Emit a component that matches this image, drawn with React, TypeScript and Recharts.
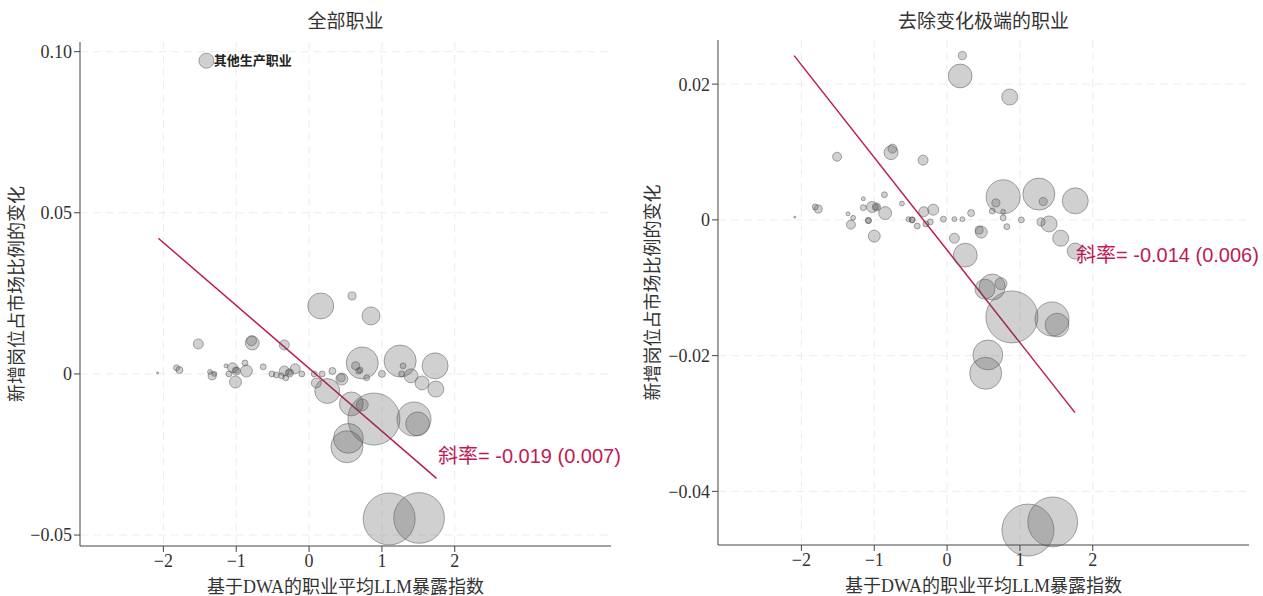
import {
  ScatterChart,
  Scatter,
  XAxis,
  YAxis,
  ZAxis,
  CartesianGrid,
  ReferenceLine,
  ReferenceDot,
  LabelList,
} from 'recharts';

// [LLM exposure index, change in share of new postings, employment weight]
type Row = [number, number, number];

// All occupations
const allJobs: Row[] = [
  [-1.52, 0.0093, 3.7],
  [-0.78, 0.0096, 7.2],
  [-0.79, 0.0103, 3.7],
  [-0.34, 0.009, 3.7],
  [-1.82, 0.0019, 1.3],
  [-1.78, 0.0012, 1.8],
  [-2.08, 0.0003, 0.15],
  [-1.36, 0.0006, 0.9],
  [-1.33, -0.0006, 2.4],
  [-1.3, 0.0, 0.9],
  [-1.14, 0.0025, 0.6],
  [-1.05, 0.0019, 3.7],
  [-1.0, 0.0009, 2.4],
  [-1.0, 0.0011, 1.3],
  [-1.1, 0.0, 1.3],
  [-1.01, -0.0025, 5.3],
  [-0.86, 0.0009, 5.3],
  [-0.88, 0.0034, 1.3],
  [-0.63, 0.0022, 1.3],
  [-0.51, 0.0, 1.3],
  [-0.45, -0.0003, 1.3],
  [-0.38, -0.0006, 1.3],
  [-0.34, 0.0009, 3.7],
  [-0.27, 0.0003, 2.4],
  [-0.27, 0.0005, 1.3],
  [-0.32, -0.0012, 1.3],
  [-0.19, 0.0016, 3.7],
  [-0.1, 0.0, 1.3],
  [0.07, 0.0, 1.3],
  [0.18, 0.0, 1.3],
  [0.32, 0.0009, 1.8],
  [0.1, -0.0028, 3.7],
  [0.25, -0.0053, 23],
  [0.45, -0.0016, 5.3],
  [0.44, -0.0012, 2.4],
  [0.73, 0.0034, 38],
  [0.64, 0.0025, 2.4],
  [0.68, 0.0009, 1.3],
  [0.7, 0.0012, 1.3],
  [0.79, -0.0012, 1.3],
  [1.0, 0.0, 1.8],
  [1.25, 0.004, 38],
  [1.29, 0.0025, 1.3],
  [1.27, 0.0, 1.3],
  [1.4, -0.0006, 7.2],
  [1.55, -0.0028, 7.2],
  [1.73, 0.0025, 25],
  [1.74, -0.0047, 9.5],
  [0.16, 0.0211, 25],
  [0.59, 0.0242, 2.4],
  [0.85, 0.018, 12],
  [0.58, -0.0093, 21],
  [0.73, -0.0096, 5.3],
  [0.89, -0.014, 100],
  [1.44, -0.014, 43],
  [1.49, -0.0155, 21],
  [0.54, -0.02, 33],
  [0.52, -0.0226, 38],
  [1.1, -0.045, 100],
  [1.51, -0.0447, 95],
];

const otherProduction = [{ x: -1.41, y: 0.0972, z: 8.3, name: '其他生产职业' }];

// Occupations without the extreme changes
const trimmedJobs: Row[] = [
  [-1.51, 0.0093, 3.0],
  [-0.77, 0.0099, 7.2],
  [-0.75, 0.0105, 3.0],
  [-0.33, 0.0088, 3.7],
  [-1.81, 0.0019, 1.3],
  [-1.77, 0.0016, 2.4],
  [-2.09, 0.0004, 0.15],
  [-1.36, 0.0009, 0.6],
  [-1.29, 0.0003, 0.9],
  [-1.32, -0.0007, 3.0],
  [-1.15, 0.0031, 0.6],
  [-1.15, 0.0018, 1.3],
  [-1.03, 0.0019, 4.5],
  [-0.97, 0.0019, 2.4],
  [-0.97, 0.0019, 1.3],
  [-0.86, 0.0037, 1.3],
  [-0.85, 0.001, 6.2],
  [-1.08, -0.0001, 1.3],
  [-1.08, -0.0001, 1.3],
  [-1.0, -0.0024, 5.3],
  [-0.62, 0.0024, 0.9],
  [-0.53, 0.0001, 0.9],
  [-0.48, 0.0, 1.3],
  [-0.48, 0.0, 1.3],
  [-0.41, -0.0009, 1.3],
  [-0.32, 0.0012, 3.7],
  [-0.29, -0.0006, 1.3],
  [-0.23, -0.0003, 1.3],
  [-0.19, 0.0015, 4.5],
  [-0.05, 0.0001, 1.3],
  [0.1, 0.0001, 0.9],
  [0.21, 0.0001, 0.9],
  [0.33, 0.001, 1.8],
  [0.44, -0.0015, 2.4],
  [0.47, -0.0018, 5.3],
  [0.1, -0.0027, 3.7],
  [0.25, -0.0052, 21],
  [0.77, 0.0034, 43],
  [0.67, 0.0025, 2.4],
  [0.62, 0.0013, 1.3],
  [0.77, 0.0012, 0.9],
  [0.77, 0.0003, 1.3],
  [0.82, -0.001, 1.3],
  [1.02, 0.0, 1.3],
  [1.26, 0.0038, 38],
  [1.32, 0.0027, 2.4],
  [1.29, -0.0003, 2.4],
  [1.4, -0.0006, 9.5],
  [1.56, -0.0027, 9.5],
  [1.76, -0.0046, 9.5],
  [1.76, 0.0028, 25],
  [0.18, 0.0212, 21],
  [0.21, 0.0242, 2.4],
  [0.86, 0.0181, 9.5],
  [0.62, -0.0099, 25],
  [0.52, -0.0102, 14.8],
  [0.74, -0.0094, 5.3],
  [0.89, -0.0143, 100],
  [1.44, -0.0146, 43],
  [1.51, -0.0155, 21],
  [0.56, -0.0199, 33],
  [0.53, -0.0226, 38],
  [1.11, -0.0457, 100],
  [1.45, -0.0445, 92],
];

// weighted fit lines, endpoints
const fitAll = [
  { x: -2.07, y: 0.0421 },
  { x: 1.75, y: -0.0324 },
];
const fitTrimmed = [
  { x: -2.1, y: 0.0242 },
  { x: 1.756, y: -0.0284 },
];

const xTicks = [-2, -1, 0, 1, 2];
const yTicksAll = [-0.05, 0, 0.05, 0.1];
const yTicksTrimmed = [-0.04, -0.02, 0, 0.02];

const toPoints = (rows: Row[]) => rows.map(([x, y, z]) => ({ x, y, z }));

const fmt = (digits: number) => (v: number) =>
  v === 0 ? '0' : (v < 0 ? '\u2212' : '') + Math.abs(v).toFixed(digits);

const SERIF = '"Liberation Serif", "Noto Sans CJK SC", serif';
const SANS = '"Liberation Sans", "Noto Sans CJK SC", sans-serif';
const RED = '#c01a56';
const AXIS = '#444';
const X_DOMAIN: [number, number] = [-3.145, 4.145];

type PanelProps = {
  title: string;
  points: { x: number; y: number; z: number }[];
  outlier?: { x: number; y: number; z: number; name: string }[];
  fit: { x: number; y: number }[];
  yDomain: [number, number];
  yTicks: number[];
  slopeText: string;
  slopeAt: { x: number; y: number };
  width: number;
  margin: { top: number; right: number; bottom: number; left: number };
  yAxisWidth: number;
  yLabelOffset: number;
};

function Panel(p: PanelProps) {
  const plotLeft = p.margin.left + p.yAxisWidth;
  const plotRight = p.width - p.margin.right;
  const plotTop = p.margin.top;
  const plotBottom = 596 - p.margin.bottom - 50;
  // grid positions follow the axis scales
  const sx = (v: number) =>
    plotLeft + ((v - X_DOMAIN[0]) / (X_DOMAIN[1] - X_DOMAIN[0])) * (plotRight - plotLeft);
  const sy = (v: number) =>
    plotBottom - ((v - p.yDomain[0]) / (p.yDomain[1] - p.yDomain[0])) * (plotBottom - plotTop);
  const bubble = {
    fill: '#555',
    fillOpacity: 0.28,
    stroke: '#555',
    strokeOpacity: 0.5,
    strokeWidth: 1,
  };
  return (
    <div style={{ position: 'relative', width: p.width, height: 596 }}>
      <div
        style={{
          position: 'absolute',
          top: 10,
          left: plotLeft,
          width: plotRight - plotLeft,
          textAlign: 'center',
          fontFamily: SERIF,
          fontSize: 19,
          color: '#333',
          lineHeight: '24px',
        }}
      >
        {p.title}
      </div>
      <ScatterChart width={p.width} height={596} margin={p.margin}>
        <CartesianGrid
          stroke="#ececec"
          strokeDasharray="8 5"
          horizontalPoints={p.yTicks.map(sy)}
          verticalPoints={xTicks.map(sx)}
        />
        <XAxis
          type="number"
          dataKey="x"
          domain={X_DOMAIN}
          ticks={xTicks}
          height={50}
          tickFormatter={fmt(0)}
          tick={{ fill: '#333', fontSize: 18, fontFamily: SERIF }}
          tickSize={6}
          tickMargin={2}
          stroke={AXIS}
          label={{
            value: '基于DWA的职业平均LLM暴露指数',
            position: 'insideBottom',
            offset: 3,
            fill: '#333',
            fontSize: 18,
            fontFamily: SERIF,
          }}
        />
        <YAxis
          type="number"
          dataKey="y"
          domain={p.yDomain}
          ticks={p.yTicks}
          width={p.yAxisWidth}
          tickFormatter={fmt(2)}
          tick={{ fill: '#333', fontSize: 18, fontFamily: SERIF }}
          tickSize={6}
          tickMargin={2}
          stroke={AXIS}
          label={{
            value: '新增岗位占市场比例的变化',
            angle: -90,
            position: 'insideLeft',
            offset: p.yLabelOffset,
            fill: '#333',
            fontSize: 18,
            fontFamily: SERIF,
            style: { textAnchor: 'middle' },
          }}
        />
        <ZAxis type="number" dataKey="z" domain={[0, 100]} range={[0, 2124]} />
        <Scatter data={p.points} {...bubble} isAnimationActive={false} />
        {p.outlier && (
          <Scatter data={p.outlier} {...bubble} isAnimationActive={false}>
            <LabelList
              dataKey="name"
              position="right"
              offset={0}
              fill="#222"
              fontSize={13}
              fontWeight="bold"
              fontFamily={SANS}
            />
          </Scatter>
        )}
        <ReferenceLine
          segment={p.fit}
          stroke={RED}
          strokeWidth={1.5}
          ifOverflow="visible"
        />
        <ReferenceDot
          x={p.slopeAt.x}
          y={p.slopeAt.y}
          r={0}
          fill="none"
          stroke="none"
          label={{
            value: p.slopeText,
            position: 'right',
            offset: 0,
            fill: RED,
            fontSize: 20,
            fontFamily: SANS,
          }}
        />
      </ScatterChart>
    </div>
  );
}

export default function App() {
  return (
    <div
      style={{
        position: 'absolute',
        left: 0,
        top: 0,
        width: 1263,
        height: 596,
        display: 'flex',
        background: '#fff',
      }}
    >
      <Panel
        title="全部职业"
        points={toPoints(allJobs)}
        outlier={otherProduction}
        fit={fitAll}
        yDomain={[-0.0534, 0.103]}
        yTicks={yTicksAll}
        slopeText="斜率= -0.019 (0.007)"
        slopeAt={{ x: 1.77, y: -0.0255 }}
        width={631}
        margin={{ top: 42, right: 20, bottom: 0, left: 0 }}
        yAxisWidth={80}
        yLabelOffset={17}
      />
      <Panel
        title="去除变化极端的职业"
        points={toPoints(trimmedJobs)}
        fit={fitTrimmed}
        yDomain={[-0.0479, 0.0265]}
        yTicks={yTicksTrimmed}
        slopeText="斜率= -0.014 (0.006)"
        slopeAt={{ x: 1.77, y: -0.0052 }}
        width={632}
        margin={{ top: 40, right: 14, bottom: 1, left: 0 }}
        yAxisWidth={87}
        yLabelOffset={22}
      />
    </div>
  );
}
